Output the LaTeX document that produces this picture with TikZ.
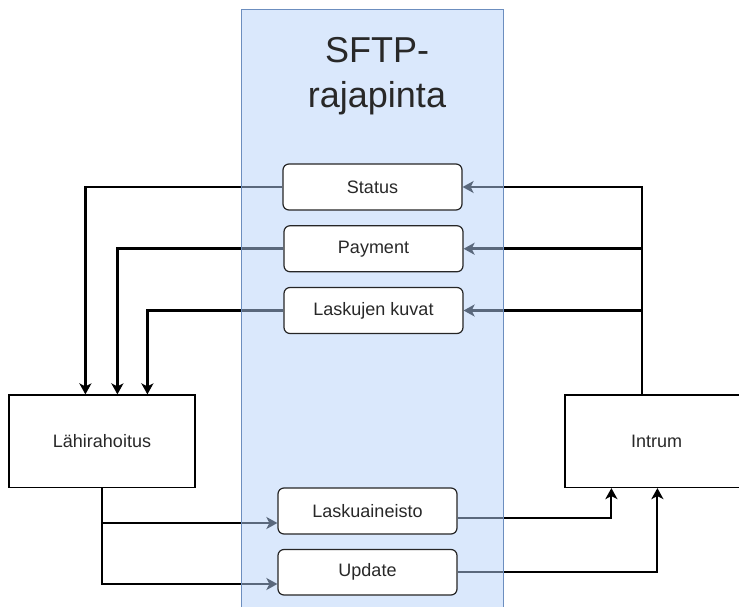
\documentclass[tikz,border=0pt]{standalone}
\usepackage{fontspec}
\setmainfont{Liberation Sans}
\usetikzlibrary{arrows.meta}
\pgfdeclarelayer{lines}
\pgfdeclarelayer{blue}
\pgfsetlayers{lines,blue,main}
\definecolor{bluefill}{RGB}{181,209,249}
\definecolor{bluedraw}{RGB}{108,142,191}
\definecolor{txt}{RGB}{40,40,40}
\tikzset{
  conn/.style={line width=2.6pt, -{Stealth[length=11pt,width=12pt,inset=3pt]}},
  thinconn/.style={line width=2pt, -{Stealth[length=11pt,width=12pt,inset=3pt]}},
  ibox/.style={draw=black!85, line width=1.2pt, rounded corners=6pt, fill=white,
    minimum width=179pt, minimum height=46pt, inner sep=0pt, text=txt,
    font=\fontsize{18pt}{21pt}\selectfont},
  party/.style={draw=black, line width=1.2pt, fill=white, minimum height=92.5pt,
    inner sep=0pt, text=txt, font=\fontsize{18pt}{21pt}\selectfont},
}
\begin{document}
\begin{tikzpicture}[x=1pt,y=-1pt]
\useasboundingbox (0,0) rectangle (739,607);
\clip (0,0) rectangle (739,607);
% interface boxes
\node[ibox] (stat) at (372.5,187) {Status};
\node[ibox] (pay) at (373.5,248.75) {Payment};
\node[ibox] (kuv) at (373.5,310.5) {Laskujen kuvat};
\node[ibox] (lask) at (367.5,511) {Laskuaineisto};
\node[ibox, minimum height=45.5pt] (upd) at (367.5,572.25) {Update};
% parties
\node[party, minimum width=186pt] (lahi) at (102,441.25) {Lähirahoitus};
\node[party, minimum width=183pt] (intr) at (656.5,441.25) {Intrum};
% title
\node[anchor=base, align=center, inner sep=0pt, text=txt,
  font=\fontsize{36pt}{45pt}\selectfont] (title) at (377,108) {SFTP-\\rajapinta};
% container
\begin{pgfonlayer}{blue}
\fill[bluefill, fill opacity=0.5] (241.5,9.5) rectangle (503.5,620);
\draw[bluedraw, line width=1.2pt] (241.5,620) -- (241.5,9.5) -- (503.5,9.5) -- (503.5,620);
\end{pgfonlayer}
% connectors
\begin{pgfonlayer}{lines}
\draw[conn] (stat.west) -| ([xshift=77pt]lahi.north west);
\draw[conn] (pay.west) -| ([xshift=109pt]lahi.north west);
\draw[conn] (kuv.west) -| ([xshift=139pt]lahi.north west);
\draw[conn] ([xshift=77.5pt]intr.north west) |- (stat.east);
\draw[conn] ([xshift=77.5pt]intr.north west) |- (pay.east);
\draw[conn] ([xshift=77.5pt]intr.north west) |- (kuv.east);
\draw[conn] ([xshift=93.7pt]lahi.south west) |- ([yshift=-12pt]lask.west);
\draw[conn] ([xshift=93.7pt]lahi.south west) |- ([yshift=-11.75pt]upd.west);
\draw[thinconn] ([yshift=-7pt]lask.east) -| ([xshift=47pt]intr.south west);
\draw[thinconn] (upd.east) -| ([xshift=93pt]intr.south west);
\end{pgfonlayer}
\end{tikzpicture}
\end{document}
